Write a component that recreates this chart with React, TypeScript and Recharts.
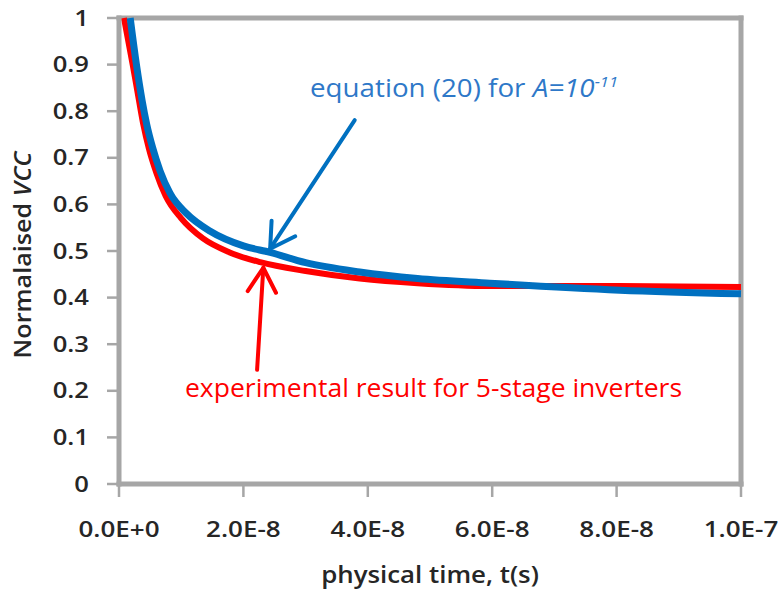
import React from 'react'
import { LineChart, Line, XAxis, YAxis, ReferenceLine } from 'recharts'

// time in seconds, normalised VCC
const expTimes = [0.8e-9, 2.2e-9, 3.2e-9, 3.9e-9, 4.8e-9, 6.0e-9, 7.5e-9, 10.0e-9, 13.5e-9, 17.8e-9, 22.7e-9, 30e-9, 38.7e-9, 48e-9, 59.6e-9, 80.5e-9, 100e-9]
const expValues = [1.0, 0.9, 0.824, 0.772, 0.72, 0.668, 0.618, 0.57, 0.527, 0.497, 0.476, 0.457, 0.441, 0.431, 0.425, 0.425, 0.423]

const eqTimes = [1.8e-9, 2.8e-9, 3.7e-9, 4.45e-9, 5.4e-9, 6.6e-9, 8.2e-9, 10.9e-9, 14.6e-9, 20.0e-9, 24.3e-9, 30e-9, 38.7e-9, 48e-9, 59.6e-9, 80.5e-9, 100e-9]
const eqValues = [1.0, 0.9, 0.824, 0.772, 0.722, 0.672, 0.624, 0.58, 0.543, 0.511, 0.497, 0.475, 0.455, 0.441, 0.431, 0.416, 0.408]

const xTicks = [0, 2e-8, 4e-8, 6e-8, 8e-8, 1e-7]
const yTicks = [0, 0.1, 0.2, 0.3, 0.4, 0.5, 0.6, 0.7, 0.8, 0.9, 1]

const expData = expTimes.map((t, i) => ({ t, v: expValues[i] }))
const eqData = eqTimes.map((t, i) => ({ t, v: eqValues[i] }))

const FONT = "'Open Sans', sans-serif"
const GRAY = '#A6A6A6'
const TEXT = '#262626'
const BLUE = '#0070C0'
const RED = '#FF0000'

const fmtX = (v: number) => v.toExponential(1).replace('e', 'E')

const XTick = ({ x, y, payload }: any) => (
  <text
    transform={`translate(${x},${y + 40}) scale(1.24,1)`}
    textAnchor="middle"
    fontFamily={FONT}
    fontSize={21}
    fontWeight={600}
    fill={TEXT}
  >
    {fmtX(payload.value)}
  </text>
)

const YTick = ({ x, y, payload }: any) => (
  <text
    transform={`translate(${x},${y + 7.5}) scale(1.22,1)`}
    textAnchor="end"
    fontFamily={FONT}
    fontSize={21}
    fontWeight={600}
    fill={TEXT}
  >
    {String(payload.value)}
  </text>
)

const XTitle = ({ viewBox }: any) => (
  <text
    transform={`translate(${viewBox.x + viewBox.width / 2},${viewBox.y + 99}) scale(1.1,1)`}
    textAnchor="middle"
    fontFamily={FONT}
    fontSize={23.5}
    fontWeight={600}
    fill={TEXT}
  >
    physical time, t(s)
  </text>
)

const YTitle = ({ viewBox }: any) => (
  <text
    transform={`translate(31,${viewBox.y + viewBox.height / 2 + 4}) rotate(-90) scale(1.12,1)`}
    textAnchor="middle"
    fontFamily={FONT}
    fontSize={22.5}
    fontWeight={600}
    fill={TEXT}
  >
    Normalaised <tspan fontStyle="italic">VCC</tspan>
  </text>
)

// straight arrow with an open head at the second point
const arrow = (color: string) => (props: any) => {
  const { x1, y1, x2, y2 } = props
  const a = Math.atan2(y2 - y1, x2 - x1)
  const len = 28
  const spread = 0.53
  const w1x = x2 - len * Math.cos(a - spread)
  const w1y = y2 - len * Math.sin(a - spread)
  const w2x = x2 - len * Math.cos(a + spread)
  const w2y = y2 - len * Math.sin(a + spread)
  return (
    <g stroke={color} strokeWidth={4} fill="none" strokeLinecap="round">
      <line x1={x1} y1={y1} x2={x2} y2={y2} />
      <polyline points={`${w1x},${w1y} ${x2},${y2} ${w2x},${w2y}`} strokeLinejoin="round" />
    </g>
  )
}

export default function App() {
  return (
    <div style={{ position: 'absolute', left: 0, top: 0, width: 784, height: 590, background: '#fff' }}>
      <LineChart width={784} height={590} margin={{ top: 18, right: 43, bottom: 0, left: 0 }}>
        <XAxis
          dataKey="t"
          type="number"
          domain={[0, 1e-7]}
          ticks={xTicks}
          interval={0}
          height={106}
          tickSize={13}
          tickMargin={0}
          axisLine={{ stroke: GRAY, strokeWidth: 5, strokeLinecap: 'square' }}
          tickLine={{ stroke: GRAY, strokeWidth: 2.5 }}
          tick={<XTick />}
          label={<XTitle />}
        />
        <YAxis
          dataKey="v"
          type="number"
          domain={[0, 1]}
          ticks={yTicks}
          interval={0}
          width={119}
          tickSize={12}
          tickMargin={18}
          axisLine={{ stroke: GRAY, strokeWidth: 5, strokeLinecap: 'square' }}
          tickLine={{ stroke: GRAY, strokeWidth: 2.5 }}
          tick={<YTick />}
          label={<YTitle />}
        />
        <ReferenceLine y={1} stroke={GRAY} strokeWidth={5} strokeLinecap="square" />
        <ReferenceLine x={1e-7} stroke={GRAY} strokeWidth={5} strokeLinecap="square" />
        <Line
          data={expData}
          dataKey="v"
          type="monotone"
          stroke={RED}
          strokeWidth={6}
          dot={false}
          isAnimationActive={false}
        />
        <Line
          data={eqData}
          dataKey="v"
          type="monotone"
          stroke={BLUE}
          strokeWidth={7}
          dot={false}
          isAnimationActive={false}
        />
        <ReferenceLine
          segment={[{ x: 37.9e-9, y: 0.781 }, { x: 24.3e-9, y: 0.505 }]}
          shape={arrow(BLUE)}
        />
        <ReferenceLine
          segment={[{ x: 22.2e-9, y: 0.245 }, { x: 23.2e-9, y: 0.464 }]}
          shape={arrow(RED)}
        />
      </LineChart>
      <svg width={784} height={590} style={{ position: 'absolute', left: 0, top: 0, pointerEvents: 'none' }}>
        <text transform="translate(310,97) scale(1.11,1)" fontFamily={FONT} fontSize={25} fill="#2E78C8">
          equation (20) for <tspan fontStyle="italic">A=10</tspan>
          <tspan fontStyle="italic" fontSize={15} dy={-10}>-11</tspan>
        </text>
        <text transform="translate(185,397) scale(1.06,1)" fontFamily={FONT} fontSize={25} fill={RED}>
          experimental result for 5-stage inverters
        </text>
      </svg>
    </div>
  )
}
